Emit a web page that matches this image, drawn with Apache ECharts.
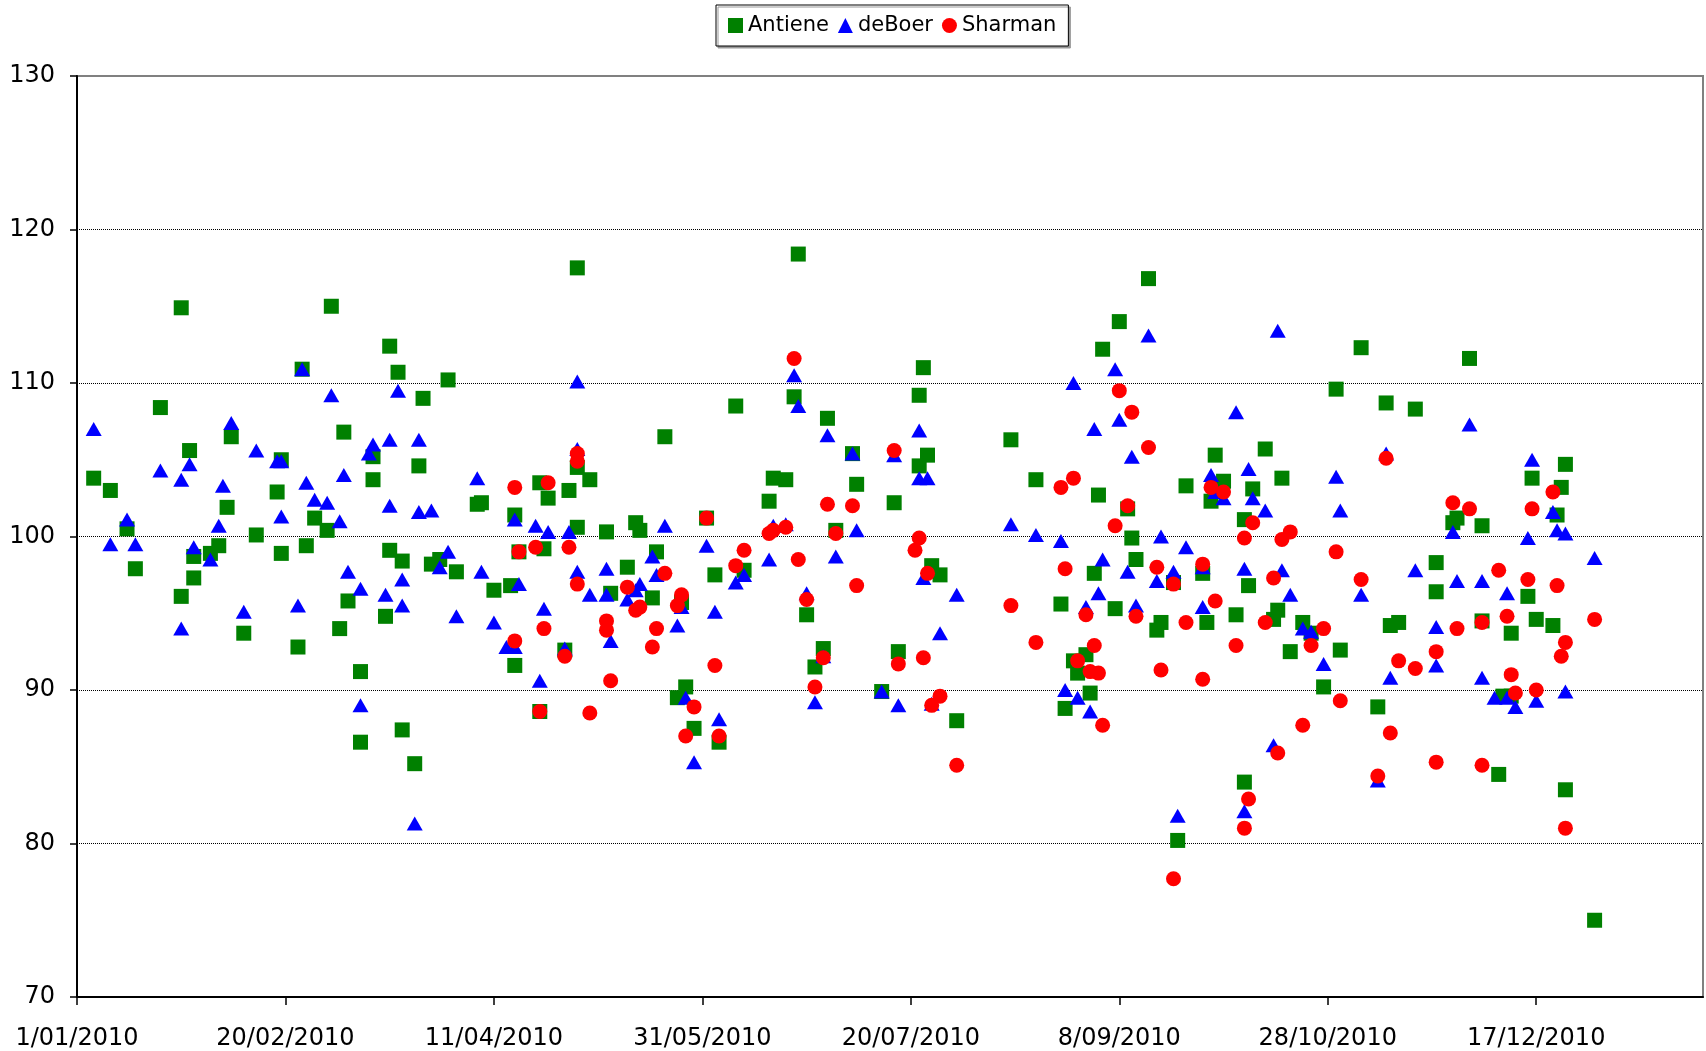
<!DOCTYPE html>
<html>
<head>
<meta charset="utf-8">
<title>Antiene / deBoer / Sharman</title>
<script src="https://cdn.jsdelivr.net/npm/echarts@6/dist/echarts.min.js"></script>
<style>
  html, body { margin: 0; padding: 0; background: #fff; }
  #main { width: 1706px; height: 1051px; }
</style>
</head>
<body>
<div id="main"></div>
<script>
// days counted from 1/01/2010
var antieneDay = [25, 61, 75, 77, 54, 83, 20, 64, 37, 27, 49, 71, 82, 4, 71, 8, 48, 36, 57, 12, 60, 43, 34, 55, 32, 28, 49, 75, 78, 14, 28, 25, 65, 74, 40, 63, 53, 68, 78, 68, 81,
    120, 89, 158, 141, 111, 118, 113, 120, 123, 96, 97, 105, 120, 127, 134, 135, 151, 85, 87, 91, 106, 112, 139, 132, 153, 160, 100, 104, 128, 138, 145, 117, 105, 111, 146, 144, 148, 154,
    173, 172, 180, 186, 203, 202, 204, 202, 224, 230, 167, 170, 166, 187, 196, 182, 205, 207, 175, 179, 177, 197, 193, 211, 236, 239, 240, 237,
    257, 250, 246, 242, 245, 252, 253, 254, 244, 249, 243, 260, 259, 263, 264, 266, 270, 271, 273, 275, 272, 278, 280, 282, 281, 280, 285, 289, 288, 287, 294, 296, 291, 303, 299, 302, 308, 314, 312, 315, 317,
    334, 321, 349, 357, 356, 355, 331, 330, 337, 326, 326, 348, 337, 344, 350, 354, 344, 342, 341, 357, 364];
var antieneVal = [114.9, 115.0, 112.4, 110.7, 110.9, 109.0, 108.4, 106.8, 106.5, 105.6, 105.0, 105.2, 104.6, 103.8, 103.7, 103.0, 102.9, 101.9, 101.2, 100.5, 100.4, 100.1, 99.4, 99.4, 98.9, 98.7, 98.9, 99.1, 98.4, 97.9, 97.3, 96.1, 95.8, 94.8, 93.7, 94.0, 92.8, 91.2, 87.4, 86.6, 85.2,
    117.5, 110.2, 108.5, 106.5, 103.5, 103.0, 102.5, 104.5, 103.7, 102.1, 102.2, 101.4, 100.6, 100.3, 100.9, 100.4, 101.2, 98.2, 98.5, 97.7, 99.0, 99.2, 99.0, 98.0, 97.5, 97.8, 96.5, 96.8, 96.3, 96.0, 95.7, 92.6, 91.6, 88.6, 90.2, 89.5, 87.5, 86.6,
    118.4, 109.1, 107.7, 105.4, 111.0, 109.2, 105.3, 104.6, 106.3, 103.7, 103.8, 103.7, 102.3, 103.4, 102.2, 100.4, 98.1, 97.5, 94.9, 92.7, 91.5, 92.5, 89.9, 88.0, 95.6, 91.9, 91.1, 88.8,
    116.8, 114.0, 112.2, 92.3, 102.7, 101.8, 99.9, 98.5, 97.6, 95.3, 89.8, 94.4, 93.9, 97.0, 80.2, 103.3, 97.6, 94.4, 105.3, 103.6, 102.3, 94.9, 101.1, 103.1, 96.8, 84.0, 105.7, 103.8, 95.2, 94.6, 94.4, 93.7, 92.5, 92.6, 90.2, 109.6, 112.3, 108.7, 88.9, 94.2, 94.4,
    111.6, 108.3, 103.8, 104.7, 103.2, 101.4, 101.2, 100.9, 100.7, 98.3, 96.4, 96.1, 94.5, 93.7, 94.6, 94.2, 89.6, 89.6, 84.5, 83.5, 75.0];

var deBoerDay = [54, 61, 77, 4, 37, 82, 75, 71, 70, 43, 48, 49, 27, 20, 25, 35, 64, 55, 57, 60, 75, 82, 49, 63, 34, 12, 8, 14, 28, 32, 65, 78, 68, 74, 78, 40, 53, 25, 68, 81,
    120, 96, 85, 105, 110, 113, 118, 120, 141, 89, 87, 97, 106, 120, 127, 138, 139, 135, 123, 127, 132, 134, 145, 144, 151, 153, 158, 160, 112, 91, 100, 103, 105, 117, 128, 111, 146, 154, 148,
    172, 173, 180, 186, 196, 202, 202, 204, 167, 170, 166, 187, 182, 175, 203, 211, 207, 179, 177, 193, 197, 205, 224, 230, 236, 239, 237, 240,
    257, 249, 250, 244, 253, 260, 246, 252, 259, 263, 266, 245, 242, 254, 270, 270, 272, 273, 275, 278, 281, 282, 285, 280, 289, 291, 294, 296, 299, 288, 287, 302, 303, 308, 315, 243, 264, 280, 312, 314,
    334, 349, 321, 331, 337, 343, 330, 348, 354, 355, 357, 364, 326, 326, 337, 340, 343, 345, 350, 357];
var deBoerVal = [110.9, 109.2, 109.5, 107.0, 107.4, 106.3, 106.3, 106.0, 105.4, 105.6, 104.9, 104.9, 104.7, 104.3, 103.7, 103.3, 104.0, 103.5, 102.4, 102.2, 102.0, 101.6, 101.3, 101.0, 100.7, 101.1, 99.5, 99.5, 99.3, 98.5, 97.7, 97.2, 96.6, 96.2, 95.5, 95.1, 95.5, 94.0, 89.0, 81.3,
    110.1, 103.8, 101.7, 101.1, 100.7, 100.3, 100.3, 105.7, 100.7, 99.0, 98.0, 97.7, 96.9, 97.7, 97.9, 98.7, 97.5, 96.9, 96.2, 96.2, 95.9, 96.5, 95.4, 94.2, 99.4, 95.1, 97.0, 97.5, 95.3, 94.8, 94.4, 92.8, 92.8, 92.7, 93.2, 90.6, 89.5, 88.1, 85.3,
    110.5, 108.5, 106.6, 105.4, 105.3, 106.9, 103.8, 103.8, 100.7, 100.8, 98.5, 100.4, 98.7, 96.3, 97.3, 96.2, 93.7, 92.2, 89.2, 89.9, 89.0, 89.1, 100.8, 100.1, 99.7, 110.0, 90.0, 89.5,
    113.1, 110.9, 107.6, 107.0, 105.2, 100.0, 98.5, 97.7, 97.1, 97.7, 99.3, 96.3, 95.4, 95.5, 95.4, 98.0, 104.0, 102.9, 102.5, 108.1, 104.4, 102.5, 101.7, 97.9, 97.8, 96.2, 94.0, 93.8, 91.7, 113.4, 86.4, 103.9, 101.7, 96.2, 90.8, 88.6, 81.8, 82.1, 84.1, 105.4,
    107.3, 105.0, 97.8, 97.1, 97.1, 96.3, 100.3, 99.9, 101.6, 100.4, 100.2, 98.6, 94.1, 91.6, 90.8, 89.5, 89.5, 88.9, 89.3, 89.9];

var sharmanDay = [105, 113, 120, 120, 151, 106, 110, 118, 160, 158, 141, 120, 132, 145, 144, 134, 135, 127, 127, 112, 139, 105, 117, 138, 153, 128, 111, 123, 148, 146, 154,
    172, 196, 180, 186, 166, 167, 170, 182, 202, 201, 173, 204, 187, 175, 179, 177, 197, 203, 207, 205, 211, 224, 230, 236, 239, 237, 242, 240,
    250, 253, 257, 252, 249, 259, 263, 270, 272, 275, 273, 266, 254, 244, 243, 245, 260, 270, 246, 278, 280, 282, 289, 291, 287, 285, 296, 299, 302, 303, 294, 288, 281, 280, 308, 314, 317, 315, 312, 263,
    330, 334, 349, 354, 341, 348, 355, 364, 343, 337, 331, 326, 321, 357, 356, 344, 345, 350, 326, 337, 357];
var sharmanVal = [103.2, 103.5, 105.4, 104.9, 101.2, 99.0, 99.3, 99.3, 99.1, 98.1, 97.6, 96.9, 96.7, 96.2, 95.5, 95.2, 95.4, 94.5, 93.9, 94.0, 94.0, 93.2, 92.2, 92.8, 91.6, 90.6, 88.6, 88.5, 88.9, 87.0, 87.0,
    111.6, 105.6, 102.1, 102.0, 100.2, 100.4, 100.6, 100.2, 99.9, 99.1, 98.5, 97.6, 96.8, 95.9, 92.1, 90.2, 91.7, 92.1, 89.6, 89.0, 85.1, 95.5, 93.1, 103.2, 103.8, 97.9, 94.9, 91.9,
    109.5, 108.1, 105.8, 102.0, 100.7, 98.0, 96.9, 98.2, 103.2, 102.9, 95.8, 94.4, 94.8, 92.9, 91.2, 91.1, 91.3, 90.7, 87.7, 92.9, 99.9, 100.9, 99.8, 100.3, 97.3, 94.4, 92.9, 94.0, 99.0, 89.3, 87.7, 85.9, 82.9, 81.0, 97.2, 105.1, 91.9, 87.2, 84.4, 77.7,
    102.2, 101.8, 101.8, 102.9, 97.8, 97.2, 96.8, 94.6, 94.8, 94.4, 94.0, 92.5, 91.4, 93.1, 92.2, 91.0, 89.8, 90.0, 85.3, 85.1, 81.0];

var yTicks = [70, 80, 90, 100, 110, 120, 130];

function pairs(days, vals) {
    return days.map(function (d, i) { return [d, vals[i]]; });
}

function dayLabel(v) {
    var d = new Date(2010, 0, 1 + v);
    var m = d.getMonth() + 1;
    return d.getDate() + '/' + (m < 10 ? '0' + m : m) + '/' + d.getFullYear();
}

var myChart = echarts.init(document.getElementById('main'));

var font = 'DejaVu Sans';

var option = {
    animation: false,
    backgroundColor: '#fff',
    textStyle: { fontFamily: font },
    // legend sits centred over the plot area, not the page
    legend: {
        top: 5,
        left: 716,
        padding: [10, 12, 10, 12],
        itemGap: 9,
        itemWidth: 15,
        itemHeight: 15,
        borderColor: '#000',
        borderWidth: 1,
        backgroundColor: '#fff',
        shadowColor: '#999',
        shadowOffsetX: 2,
        shadowOffsetY: 2,
        shadowBlur: 0,
        textStyle: { fontSize: 21, color: '#000', fontFamily: font },
        data: [
            { name: 'Antiene', icon: 'rect' },
            { name: 'deBoer', icon: 'triangle' },
            { name: 'Sharman', icon: 'circle' }
        ]
    },
    grid: {
        left: 77,
        right: 3,
        top: 76,
        bottom: 54,
        show: true,
        borderColor: '#808080',
        borderWidth: 2
    },
    xAxis: {
        type: 'value',
        min: 0,
        max: 390,
        interval: 50,
        axisLine: { show: true, lineStyle: { color: '#000', width: 2 } },
        axisTick: { show: true, inside: false, length: 8, lineStyle: { color: '#000', width: 1.5 } },
        axisLabel: {
            fontSize: 24,
            color: '#000',
            fontFamily: font,
            margin: 30,
            showMaxLabel: false,
            formatter: dayLabel
        },
        splitLine: { show: false }
    },
    yAxis: {
        type: 'value',
        min: yTicks[0],
        max: yTicks[yTicks.length - 1],
        interval: 10,
        axisLine: { show: true, lineStyle: { color: '#000', width: 2 } },
        axisTick: { show: true, inside: false, length: 7, lineStyle: { color: '#000', width: 1.5 } },
        axisLabel: { fontSize: 24, color: '#000', fontFamily: font, margin: 22 },
        splitLine: {
            show: true,
            showMinLine: false,
            showMaxLine: false,
            lineStyle: { color: '#000', width: 1, type: 'dotted' }
        }
    },
    series: [
        {
            name: 'Antiene',
            type: 'scatter',
            symbol: 'rect',
            symbolSize: 15,
            itemStyle: { color: '#008000', opacity: 1 },
            data: pairs(antieneDay, antieneVal)
        },
        {
            name: 'deBoer',
            type: 'scatter',
            symbol: 'triangle',
            symbolSize: [16, 14],
            itemStyle: { color: '#0000ff', opacity: 1 },
            data: pairs(deBoerDay, deBoerVal)
        },
        {
            name: 'Sharman',
            type: 'scatter',
            symbol: 'circle',
            symbolSize: 15,
            itemStyle: { color: '#ff0000', opacity: 1 },
            data: pairs(sharmanDay, sharmanVal)
        }
    ]
};

myChart.setOption(option);
</script>
</body>
</html>
